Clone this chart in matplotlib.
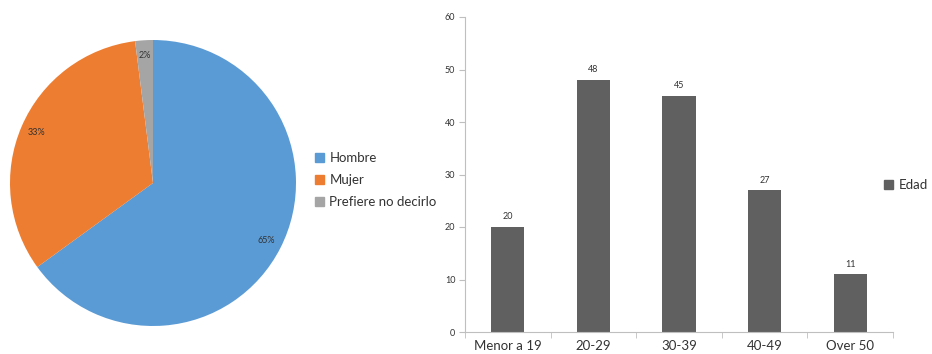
import matplotlib.pyplot as plt
from matplotlib.patches import Patch

plt.rcParams['font.family'] = ['Lato', 'DejaVu Sans']

# genero (porcentajes)
genero = ['Hombre', 'Mujer', 'Prefiere no decirlo']
genero_pct = [65, 33, 2]
genero_col = ['#5b9bd5', '#ed7d31', '#a5a5a5']

# edad (conteos)
edades = ['Menor a 19', '20-29', '30-39', '40-49', 'Over 50']
edad_n = [20, 48, 45, 27, 11]
yticks = [0, 10, 20, 30, 40, 50, 60]

txt = '#333333'

fig = plt.figure(figsize=(9.32, 3.54), dpi=100)

# --- pie ---
ax1 = fig.add_axes([10/932, 28/354, 286/932, 286/354])
wedges, texts, autotexts = ax1.pie(genero_pct, colors=genero_col, startangle=90,
                                   counterclock=False, autopct='%.0f%%',
                                   pctdistance=0.89,
                                   textprops={'fontsize': 6.5, 'color': txt},
                                   wedgeprops={'linewidth': 0})
ax1.set_xlim(-1, 1)
ax1.set_ylim(-1, 1)
ax1.set_aspect('equal')
ax1.axis('off')

fig.legend(handles=[Patch(color=c) for c in genero_col], labels=genero,
           loc='center left', bbox_to_anchor=(303/932, 1 - 180/354),
           frameon=False, fontsize=9.5, handlelength=0.7, handleheight=0.7,
           handletextpad=0.4, labelspacing=0.75, labelcolor=txt)

# --- barras ---
ax2 = fig.add_axes([465/932, 22/354, 428/932, 315/354])
x = range(len(edades))
bars = ax2.bar(x, edad_n, width=0.39, color='#606060', label='Edad')
ax2.bar_label(bars, padding=4, fontsize=6.5, color=txt)
ax2.set_xlim(-0.5, len(edades) - 0.5)
ax2.set_ylim(0, 60)
ax2.set_yticks(yticks)
ax2.set_xticks(list(x))
ax2.set_xticklabels(edades, fontsize=9.5, color=txt)
ax2.set_xticks([i - 0.5 for i in range(len(edades) + 1)], minor=True)
ax2.tick_params(axis='x', which='major', length=0, pad=6)
ax2.tick_params(axis='x', which='minor', length=4, color='#bfbfbf')
ax2.tick_params(axis='y', length=4, color='#bfbfbf', labelsize=6.5,
                labelcolor=txt, pad=3)
for s in ['top', 'right']:
    ax2.spines[s].set_visible(False)
for s in ['left', 'bottom']:
    ax2.spines[s].set_color('#bfbfbf')
    ax2.spines[s].set_linewidth(0.8)

fig.legend(handles=[Patch(color='#606060')], labels=['Edad'],
           loc='center left', bbox_to_anchor=(872/932, 1 - 185/354),
           frameon=False, fontsize=9.5, handlelength=0.7, handleheight=0.7,
           handletextpad=0.4, labelcolor=txt)

fig.savefig('out.png', dpi=100)
